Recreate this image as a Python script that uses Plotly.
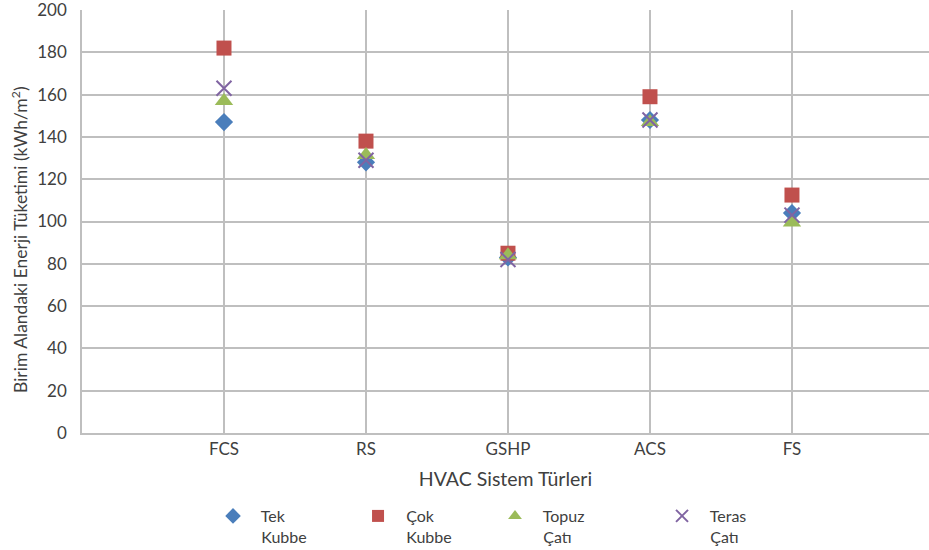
import plotly.graph_objects as go

# HVAC system types on the x axis
systems = ["FCS", "RS", "GSHP", "ACS", "FS"]
positions = [1, 2, 3, 4, 5]

# Unit-area energy consumption (kWh/m²) per roof type
tek_kubbe = [147, 128, 83, 148, 104]
cok_kubbe = [182, 138, 85, 159, 112.5]
topuz_cati = [157, 131.5, 84, 147, 99.5]
teras_cati = [163, 129, 82, 148, 103]

pad = "\u00a0\u00a0"
series_names = [f"{pad}Tek<br>{pad}Kubbe", f"{pad}Çok<br>{pad}Kubbe",
                f"{pad}Topuz<br>{pad}Çatı", f"{pad}Teras<br>{pad}Çatı"]
series_values = [tek_kubbe, cok_kubbe, topuz_cati, teras_cati]
series_colors = ["#4A7EBB", "#C0504D", "#9BBB59", "#8064A2"]
series_symbols = ["diamond", "square", "triangle-up", "x-thin"]
series_sizes = [14, 15, 16, 15]

# one legend box per series so that each entry sits in its own column
legend_ids = ["legend", "legend2", "legend3", "legend4"]
legend_x = [0.1547, 0.3259, 0.4876, 0.6848]

font_family = "Lato, 'Open Sans', sans-serif"

fig = go.Figure()
for name, vals, col, sym, sz, lid in zip(series_names, series_values, series_colors,
                                         series_symbols, series_sizes, legend_ids):
    marker = dict(color=col, symbol=sym, size=sz)
    if sym == "x-thin":
        marker["line"] = dict(color=col, width=2)
    fig.add_trace(go.Scatter(
        x=positions, y=vals, mode="markers", name=name, marker=marker, legend=lid,
    ))

legend_style = dict(
    orientation="h", xref="paper", xanchor="left",
    y=0.0927, yref="container", yanchor="top", valign="top",
    font=dict(size=16, color="#404040"), itemsizing="constant",
    bgcolor="rgba(0,0,0,0)",
)

fig.update_layout(
    width=929, height=550,
    margin=dict(l=82, r=0, t=10, b=117, autoexpand=False),
    paper_bgcolor="white", plot_bgcolor="white",
    font=dict(family=font_family, size=17, color="#404040"),
    showlegend=True,
    xaxis=dict(
        range=[0, 5.965], tickmode="array", tickvals=positions, ticktext=systems,
        showgrid=True, gridcolor="#BFBFBF", gridwidth=1.5,
        showline=True, linecolor="#BFBFBF", linewidth=1.5,
        ticks="", zeroline=False,
        title=dict(text="HVAC Sistem Türleri", font=dict(size=19.5), standoff=14),
    ),
    yaxis=dict(
        range=[0, 200], dtick=20,
        showgrid=True, gridcolor="#BFBFBF", gridwidth=1.5,
        showline=True, linecolor="#BFBFBF", linewidth=1.5,
        ticks="", zeroline=False, ticklabelstandoff=10,
        ticklabeloverflow="allow",
    ),
    annotations=[dict(
        text="Birim Alandaki Enerji Tüketimi (kWh/m<sup>2</sup>)",
        textangle=-90, xref="paper", yref="paper", x=-0.0744, y=0.4586,
        xanchor="center", yanchor="middle", showarrow=False,
        font=dict(size=17.5, color="#404040"),
    )],
)
for lid, lx in zip(legend_ids, legend_x):
    fig.update_layout({lid: dict(legend_style, x=lx)})

fig.write_html("out.html")
